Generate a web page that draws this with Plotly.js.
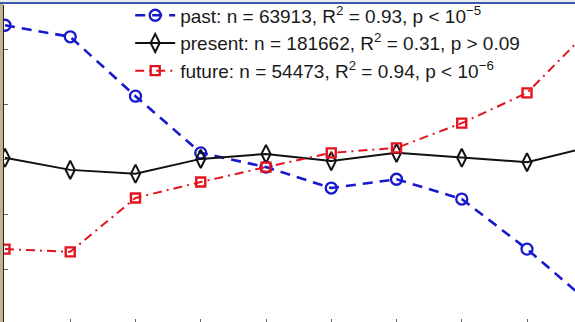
<!DOCTYPE html>
<html>
<head>
<meta charset="utf-8">
<script src="https://cdn.plot.ly/plotly-3.0.1.min.js"></script>
<style>
  html, body { margin: 0; padding: 0; width: 575px; height: 322px; overflow: hidden; background: #ffffff; }
  #chart { position: absolute; left: 0; top: 0; width: 575px; height: 326px; }
  #edgeLeft { position: absolute; left: 0; top: 0; width: 3px; height: 322px; background: #c2b190; z-index: 5; }
  #edgeTop { position: absolute; left: 0; top: 0; width: 575px; height: 2px; background: #e9edf2; z-index: 6; }
  #barTop { position: absolute; left: 0; top: 2px; width: 575px; height: 2px; background: #3a5aa6; z-index: 6; }
</style>
</head>
<body>
<div id="chart"></div>
<div id="edgeLeft"></div>
<div id="edgeTop"></div>
<div id="barTop"></div>
<script>
// Bin index along the horizontal axis
const bins = [1, 2, 3, 4, 5, 6, 7, 8, 9, 10];

// Mean (normalised) value per bin for each group
const pastValues    = [2.45, 2.24, 1.16, 0.13, -0.13, -0.51, -0.35, -0.71, -1.62, -2.64];
const presentValues = [0.04, -0.18, -0.25, 0.02, 0.11, -0.02, 0.13, 0.04, -0.04, 0.25];
const futureValues  = [-1.62, -1.67, -0.69, -0.40, -0.13, 0.13, 0.22, 0.67, 1.22, 2.42];

// Legend entries
const pastLabel    = "past: n = 63913, R<sup>2</sup> = 0.93, p &lt; 10<sup>\u22125</sup>";
const presentLabel = "present: n = 181662, R<sup>2</sup> = 0.31, p &gt; 0.09";
const futureLabel  = "future: n = 54473, R<sup>2</sup> = 0.94, p &lt; 10<sup>\u22126</sup>";

// Tick positions (no labels shown)
const xTicks = [1, 2, 3, 4, 5, 6, 7, 8, 9, 10];
const yTicks = [-2, -1, 0, 1, 2];

const BLUE = "#1818cc";
const RED = "#e3131d";
const BLACK = "#111111";

const traces = [
  {
    x: bins, y: pastValues, name: pastLabel, legendgroup: "a",
    mode: "lines+markers", cliponaxis: true,
    line: { color: BLUE, width: 2.6, dash: "10px,7px" },
    marker: { symbol: "circle-open", size: 11, color: BLUE, line: { width: 2.3, color: BLUE } }
  },
  {
    x: bins, y: presentValues, name: presentLabel, legendgroup: "b",
    mode: "lines+markers", cliponaxis: true,
    line: { color: BLACK, width: 2 },
    marker: { symbol: "diamond-tall-open", size: 13, color: BLACK, line: { width: 2, color: BLACK } }
  },
  {
    x: bins, y: futureValues, name: futureLabel, legendgroup: "c",
    mode: "lines+markers", cliponaxis: true,
    line: { color: RED, width: 2, dash: "9px,5px,2px,5px" },
    marker: { symbol: "square-open", size: 9, color: RED, line: { width: 2.4, color: RED } }
  }
];

const step = 65.25;
const layout = {
  width: 575,
  height: 326,
  margin: { l: 4, r: 0, t: 5, b: 3, pad: 0, autoexpand: false },
  paper_bgcolor: "#ffffff",
  plot_bgcolor: "#ffffff",
  showlegend: true,
  font: { family: "Liberation Sans, Arial, sans-serif", size: 19, color: "#1a1a1a" },
  legend: {
    x: 0.221, y: 1.027, xanchor: "left", yanchor: "top",
    bgcolor: "rgba(255,255,255,0)", borderwidth: 0,
    traceorder: "grouped", tracegroupgap: 0, itemwidth: 40,
    font: { family: "Liberation Sans, Arial, sans-serif", size: 19, color: "#1a1a1a" }
  },
  xaxis: {
    range: [1 - 1 / step, 1 - 1 / step + 571 / step],
    showgrid: false, zeroline: false, showline: false,
    tickmode: "array", tickvals: xTicks, showticklabels: false,
    ticks: "inside", ticklen: 4, tickwidth: 1, tickcolor: "#666666"
  },
  yaxis: {
    range: [-2.964, 2.818],
    showgrid: false, zeroline: false,
    showline: true, linecolor: "#1c2a22", linewidth: 1.5,
    tickmode: "array", tickvals: yTicks, showticklabels: false,
    ticks: "inside", ticklen: 4, tickwidth: 1, tickcolor: "#666666"
  }
};

Plotly.newPlot("chart", traces, layout, { staticPlot: true, displayModeBar: false });
</script>
</body>
</html>
